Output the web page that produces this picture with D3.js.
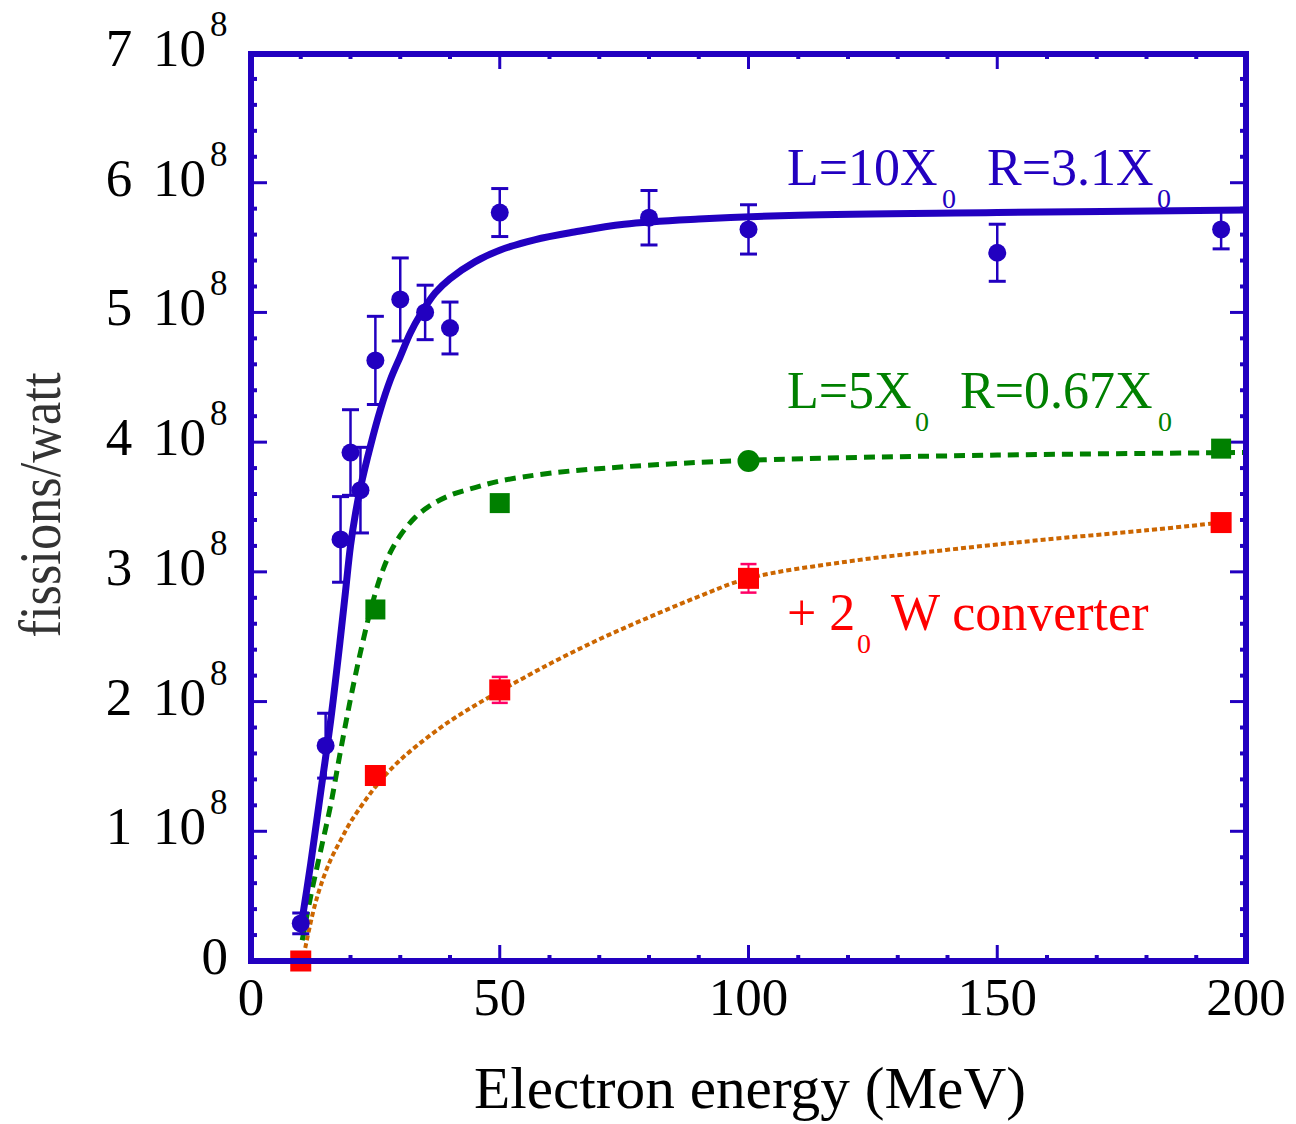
<!DOCTYPE html>
<html><head><meta charset="utf-8">
<script src="https://cdn.jsdelivr.net/npm/d3@7"></script>
<style>body{margin:0;background:#fff}svg{display:block}</style>
</head><body><svg id="c" width="1296" height="1124"></svg>
<script>
// ---- data (fissions/watt in units of 1e8) ----
const blueX   = [10, 15, 18, 20, 22, 25, 30, 35, 40, 50, 80, 100, 150, 195];
const blueY   = [0.29, 1.66, 3.25, 3.92, 3.63, 4.63, 5.10, 5.00, 4.88, 5.77, 5.73, 5.64, 5.46, 5.64];
const blueErr = [0.08, 0.25, 0.33, 0.33, 0.33, 0.34, 0.32, 0.21, 0.20, 0.185, 0.21, 0.19, 0.22, 0.15];

const greenX = [25, 50, 100, 195];
const greenY = [2.71, 3.53, 3.855, 3.95];
const greenShape = ["square", "square", "circle", "square"];

const redX   = [10, 25, 50, 100, 195];
const redY   = [0.0, 1.43, 2.09, 2.95, 3.38];
const redErr = [0, 0, 0.1, 0.11, 0];

const blueFitX = [10, 12, 14, 16, 18, 19, 20, 21, 22, 24, 26, 28, 30, 32, 34, 37, 40, 45, 50, 57, 65, 75, 90, 110, 150, 200];
const blueFitY = [0.25, 0.75, 1.3, 1.85, 2.5, 2.85, 3.2, 3.45, 3.65, 3.97, 4.25, 4.48, 4.66, 4.84, 4.98, 5.15, 5.26, 5.39, 5.48, 5.56, 5.62, 5.68, 5.72, 5.75, 5.77, 5.79];

const greenFitX = [10.3, 12, 14, 16, 18, 20, 22, 24, 26, 28, 30, 33, 36, 40, 45, 50, 60, 75, 100, 150, 200];
const greenFitY = [0.16, 0.5, 0.85, 1.2, 1.62, 2.02, 2.38, 2.7, 2.96, 3.15, 3.28, 3.42, 3.51, 3.59, 3.65, 3.7, 3.76, 3.81, 3.86, 3.9, 3.92];

const redFitX = [10.9, 12.5, 14, 16, 18, 20, 23, 26, 30, 35, 40, 45, 50, 60, 70, 80, 90, 100, 120, 140, 160, 180, 195];
const redFitY = [0.1, 0.38, 0.58, 0.78, 0.93, 1.07, 1.24, 1.39, 1.55, 1.71, 1.85, 1.97, 2.08, 2.29, 2.48, 2.65, 2.81, 2.95, 3.08, 3.17, 3.25, 3.32, 3.38];

const xTickLabels = [0, 50, 100, 150, 200];
const yTickLabels = [0, 1, 2, 3, 4, 5, 6, 7];

// ---- drawing ----
const BLUE = "#2200c0", GREEN = "#008000", RED = "#ff0000", ORANGE = "#cc6600", PINK = "#ff0066";
const svg = d3.select("#c");
const x = d3.scaleLinear().domain([0, 200]).range([251, 1246]);
const y = d3.scaleLinear().domain([0, 7]).range([961, 53]);
const FONT = "'Liberation Serif','Times New Roman',serif";

// ticks (inward) on all four sides
const g = svg.append("g");
const xMinor = d3.range(0, 201, 10), yMinor = d3.range(0, 7.001, 0.2);
xMinor.forEach(v => {
  const major = v % 50 === 0;
  const L = major ? 16 : 6;
  [[961, -1], [53, 1]].forEach(([yy, d]) => {
    g.append("line").attr("x1", x(v)).attr("x2", x(v)).attr("y1", yy).attr("y2", yy + d * L)
      .attr("stroke", BLUE).attr("stroke-width", major ? 3 : 4);
  });
});
yMinor.forEach(v => {
  const major = Math.abs(v - Math.round(v)) < 1e-6;
  const L = major ? 16 : 6;
  [[251, 1], [1246, -1]].forEach(([xx, d]) => {
    g.append("line").attr("y1", y(v)).attr("y2", y(v)).attr("x1", xx).attr("x2", xx + d * L)
      .attr("stroke", BLUE).attr("stroke-width", major ? 3 : 4);
  });
});

// fit lines
const line = d3.line().x(d => x(d[0])).y(d => y(d[1])).curve(d3.curveCatmullRom.alpha(0.5));
svg.append("path").datum(redFitX.map((v, i) => [v, redFitY[i]]))
  .attr("d", line).attr("fill", "none").attr("stroke", ORANGE).attr("stroke-width", 4)
  .attr("stroke-dasharray", "5,3");
svg.append("path").datum(greenFitX.map((v, i) => [v, greenFitY[i]]))
  .attr("d", line).attr("fill", "none").attr("stroke", GREEN).attr("stroke-width", 5)
  .attr("stroke-dasharray", "11,7");
svg.append("path").datum(blueFitX.map((v, i) => [v, blueFitY[i]]))
  .attr("d", line).attr("fill", "none").attr("stroke", BLUE).attr("stroke-width", 7);

// blue points with error bars
blueX.forEach((v, i) => {
  const cx = x(v), y0 = y(blueY[i] - blueErr[i]), y1 = y(blueY[i] + blueErr[i]);
  svg.append("line").attr("x1", cx).attr("x2", cx).attr("y1", y0).attr("y2", y1).attr("stroke", BLUE).attr("stroke-width", 2.5);
  [y0, y1].forEach(yy => svg.append("line").attr("x1", cx - 8.5).attr("x2", cx + 8.5).attr("y1", yy).attr("y2", yy)
    .attr("stroke", BLUE).attr("stroke-width", 3));
  svg.append("circle").attr("cx", cx).attr("cy", y(blueY[i])).attr("r", 9).attr("fill", BLUE);
});

// green points
greenX.forEach((v, i) => {
  if (greenShape[i] === "circle")
    svg.append("circle").attr("cx", x(v)).attr("cy", y(greenY[i])).attr("r", 11).attr("fill", GREEN);
  else
    svg.append("rect").attr("x", x(v) - 10).attr("y", y(greenY[i]) - 10).attr("width", 20).attr("height", 20).attr("fill", GREEN);
});

// red points
redX.forEach((v, i) => {
  const cx = x(v);
  if (redErr[i] > 0) {
    const y0 = y(redY[i] - redErr[i]), y1 = y(redY[i] + redErr[i]);
    svg.append("line").attr("x1", cx).attr("x2", cx).attr("y1", y0).attr("y2", y1).attr("stroke", PINK).attr("stroke-width", 2);
    [y0, y1].forEach(yy => svg.append("line").attr("x1", cx - 8).attr("x2", cx + 8).attr("y1", yy).attr("y2", yy)
      .attr("stroke", PINK).attr("stroke-width", 2.5));
  }
  svg.append("rect").attr("x", cx - 10.5).attr("y", y(redY[i]) - 10.5).attr("width", 21).attr("height", 21).attr("fill", RED);
});

// frame
svg.append("rect").attr("x", 251).attr("y", 54).attr("width", 995).attr("height", 907)
  .attr("fill", "none").attr("stroke", BLUE).attr("stroke-width", 6);

// tick labels
xTickLabels.forEach(v => {
  svg.append("text").attr("x", x(v)).attr("y", 1015).attr("text-anchor", "middle")
    .attr("font-family", FONT).attr("font-size", 53).attr("fill", "#000").text(v);
});
yTickLabels.forEach(v => {
  const by = y(v) + 13;
  if (v === 0) {
    svg.append("text").attr("x", 228).attr("y", by).attr("text-anchor", "end")
      .attr("font-family", FONT).attr("font-size", 53).attr("fill", "#000").text("0");
    return;
  }
  svg.append("text").attr("x", 119).attr("y", by).attr("text-anchor", "middle")
    .attr("font-family", FONT).attr("font-size", 53).attr("fill", "#000").text(v);
  svg.append("text").attr("x", 153).attr("y", by).attr("text-anchor", "start")
    .attr("font-family", FONT).attr("font-size", 53).attr("fill", "#000").text("10");
  svg.append("text").attr("x", 210).attr("y", by - 30).attr("text-anchor", "start")
    .attr("font-family", FONT).attr("font-size", 35).attr("fill", "#000").text("8");
});

// axis titles
svg.append("text").attr("x", 750).attr("y", 1108).attr("text-anchor", "middle")
  .attr("font-family", FONT).attr("font-size", 60).attr("textLength", 552).attr("lengthAdjust", "spacingAndGlyphs")
  .attr("fill", "#000").text("Electron energy (MeV)");
svg.append("text").attr("transform", "translate(60,505) rotate(-90)").attr("text-anchor", "middle")
  .attr("font-family", FONT).attr("font-size", 60).attr("textLength", 265).attr("lengthAdjust", "spacingAndGlyphs")
  .attr("fill", "#333").text("fissions/watt");

// annotations: [text, x, isSub]
function annot(parts, yb, color) {
  const t = svg.append("text").attr("font-family", FONT).attr("fill", color);
  parts.forEach(p => {
    t.append("tspan").attr("x", p[1]).attr("y", p[2] ? yb + 23 : yb)
      .attr("font-size", p[2] ? 28 : 52).text(p[0]);
  });
}
annot([["L=10X", 787, false], ["0", 942, true], ["R=3.1X", 987, false], ["0", 1157, true]], 185, BLUE);
annot([["L=5X", 787, false], ["0", 915, true], ["R=0.67X", 960, false], ["0", 1158, true]], 408, GREEN);
annot([["+ 2", 787, false], ["0", 857, true], ["W converter", 891, false]], 630, RED);
</script></body></html>
